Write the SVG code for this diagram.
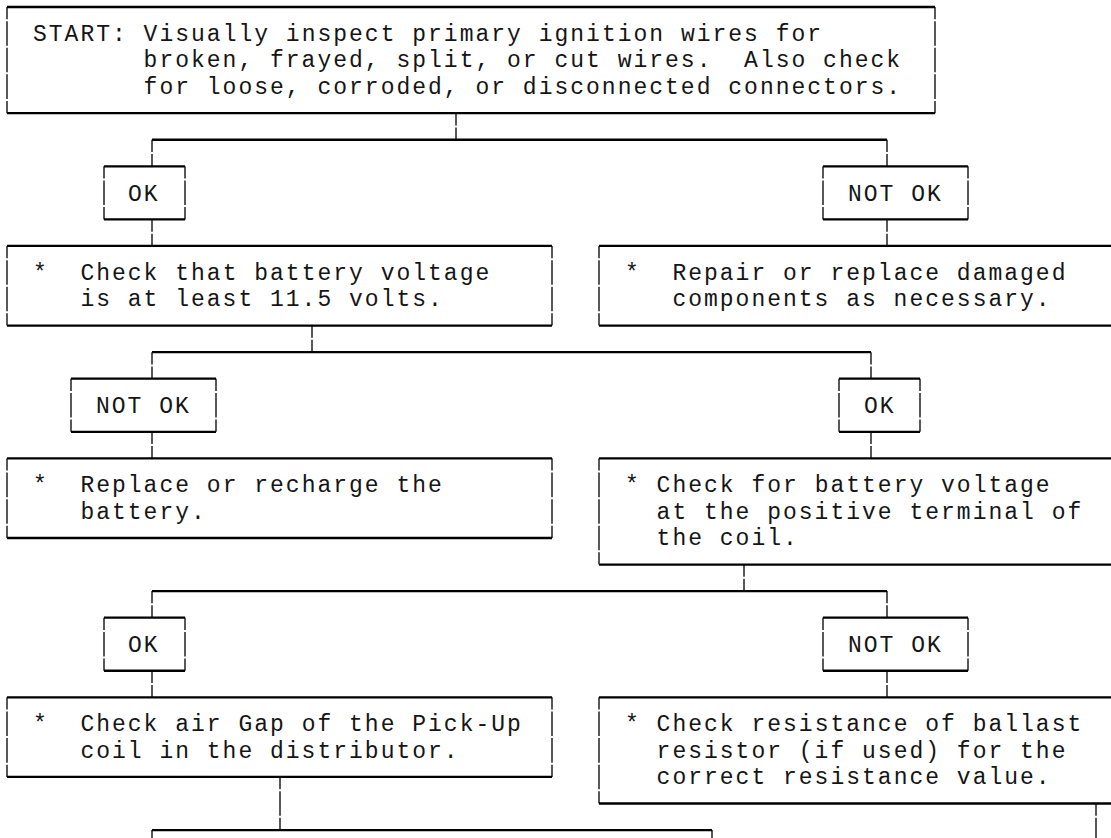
<svg xmlns="http://www.w3.org/2000/svg" width="1111" height="838" viewBox="0 0 1111 838">
<style>
text { font-family: "Liberation Mono", "DejaVu Sans Mono", monospace; font-size: 23px; letter-spacing: 2px; fill: #151515; white-space: pre; }
.h { stroke: #000; stroke-width: 2.3; fill: none; }
.v { stroke: #000; stroke-width: 1.3; fill: none; stroke-dasharray: 24.55 2; stroke-dashoffset: 12.28; }
</style>
<rect width="1111" height="838" fill="#fff"/>

<g id="connectors">
  <line class="v" x1="456" y1="113.2" x2="456" y2="139.75"/>
  <path class="h" d="M152 139.75 H887"/>
  <line class="v" x1="152" y1="139.75" x2="152" y2="166.3"/>
  <line class="v" x1="887" y1="139.75" x2="887" y2="166.3"/>
  <line class="v" x1="152" y1="219.4" x2="152" y2="245.95"/>
  <line class="v" x1="887" y1="219.4" x2="887" y2="245.95"/>

  <line class="v" x1="312" y1="325.6" x2="312" y2="352.15"/>
  <path class="h" d="M152 352.15 H871"/>
  <line class="v" x1="152" y1="352.15" x2="152" y2="378.7"/>
  <line class="v" x1="871" y1="352.15" x2="871" y2="378.7"/>
  <line class="v" x1="152" y1="431.8" x2="152" y2="458.35"/>
  <line class="v" x1="871" y1="431.8" x2="871" y2="458.35"/>

  <line class="v" x1="744" y1="564.55" x2="744" y2="591.1"/>
  <path class="h" d="M152 591.1 H887"/>
  <line class="v" x1="152" y1="591.1" x2="152" y2="617.65"/>
  <line class="v" x1="887" y1="591.1" x2="887" y2="617.65"/>
  <line class="v" x1="152" y1="670.75" x2="152" y2="697.3"/>
  <line class="v" x1="887" y1="670.75" x2="887" y2="697.3"/>

  <line class="v" x1="280" y1="776.95" x2="280" y2="830.05"/>
  <line class="v" x1="1096" y1="803.5" x2="1096" y2="856.6"/>
</g>

<g id="n-start">
  <path class="h" d="M7 7 H935 M7 113.2 H935"/>
  <line class="v" x1="7" y1="7" x2="7" y2="113.2"/>
  <line class="v" x1="935" y1="7" x2="935" y2="113.2"/>
  <text x="33" y="40.5">START: Visually inspect primary ignition wires for</text>
  <text x="143.6" y="67.1">broken, frayed, split, or cut wires.  Also check</text>
  <text x="143.6" y="93.6">for loose, corroded, or disconnected connectors.</text>
</g>

<g id="n-ok1">
  <path class="h" d="M104 166.3 H185 M104 219.4 H185"/>
  <line class="v" x1="104" y1="166.3" x2="104" y2="219.4"/>
  <line class="v" x1="185" y1="166.3" x2="185" y2="219.4"/>
  <text x="128" y="200.5">OK</text>
</g>

<g id="n-notok1">
  <path class="h" d="M823 166.3 H968 M823 219.4 H968"/>
  <line class="v" x1="823" y1="166.3" x2="823" y2="219.4"/>
  <line class="v" x1="968" y1="166.3" x2="968" y2="219.4"/>
  <text x="848" y="200.5">NOT OK</text>
</g>

<g id="n-battery">
  <path class="h" d="M7 245.95 H552 M7 325.6 H552"/>
  <line class="v" x1="7" y1="245.95" x2="7" y2="325.6"/>
  <line class="v" x1="552" y1="245.95" x2="552" y2="325.6"/>
  <text x="33" y="279.5">*  Check that battery voltage</text>
  <text x="80.4" y="306">is at least 11.5 volts.</text>
</g>

<g id="n-repair">
  <path class="h" d="M599 245.95 H1112 M599 325.6 H1112"/>
  <line class="v" x1="599" y1="245.95" x2="599" y2="325.6"/>
  <text x="625" y="279.5">*  Repair or replace damaged</text>
  <text x="672.4" y="306">components as necessary.</text>
</g>

<g id="n-notok2">
  <path class="h" d="M71 378.7 H216 M71 431.8 H216"/>
  <line class="v" x1="71" y1="378.7" x2="71" y2="431.8"/>
  <line class="v" x1="216" y1="378.7" x2="216" y2="431.8"/>
  <text x="96" y="412.5">NOT OK</text>
</g>

<g id="n-ok2">
  <path class="h" d="M839 378.7 H920 M839 431.8 H920"/>
  <line class="v" x1="839" y1="378.7" x2="839" y2="431.8"/>
  <line class="v" x1="920" y1="378.7" x2="920" y2="431.8"/>
  <text x="864" y="412.5">OK</text>
</g>

<g id="n-recharge">
  <path class="h" d="M7 458.35 H552 M7 538 H552"/>
  <line class="v" x1="7" y1="458.35" x2="7" y2="538"/>
  <line class="v" x1="552" y1="458.35" x2="552" y2="538"/>
  <text x="33" y="492">*  Replace or recharge the</text>
  <text x="80.4" y="518.5">battery.</text>
</g>

<g id="n-coil-voltage">
  <path class="h" d="M599 458.35 H1112 M599 564.55 H1112"/>
  <line class="v" x1="599" y1="458.35" x2="599" y2="564.55"/>
  <text x="625" y="492">* Check for battery voltage</text>
  <text x="656.6" y="518.5">at the positive terminal of</text>
  <text x="656.6" y="545">the coil.</text>
</g>

<g id="n-ok3">
  <path class="h" d="M104 617.65 H185 M104 670.75 H185"/>
  <line class="v" x1="104" y1="617.65" x2="104" y2="670.75"/>
  <line class="v" x1="185" y1="617.65" x2="185" y2="670.75"/>
  <text x="128" y="651.5">OK</text>
</g>

<g id="n-notok3">
  <path class="h" d="M823 617.65 H968 M823 670.75 H968"/>
  <line class="v" x1="823" y1="617.65" x2="823" y2="670.75"/>
  <line class="v" x1="968" y1="617.65" x2="968" y2="670.75"/>
  <text x="848" y="651.5">NOT OK</text>
</g>

<g id="n-airgap">
  <path class="h" d="M7 697.3 H552 M7 776.95 H552"/>
  <line class="v" x1="7" y1="697.3" x2="7" y2="776.95"/>
  <line class="v" x1="552" y1="697.3" x2="552" y2="776.95"/>
  <text x="33" y="731">*  Check air Gap of the Pick-Up</text>
  <text x="80.4" y="757.5">coil in the distributor.</text>
</g>

<g id="n-ballast">
  <path class="h" d="M599 697.3 H1112 M599 803.5 H1112"/>
  <line class="v" x1="599" y1="697.3" x2="599" y2="803.5"/>
  <text x="625" y="731">* Check resistance of ballast</text>
  <text x="656.6" y="757.5">resistor (if used) for the</text>
  <text x="656.6" y="784">correct resistance value.</text>
</g>

<g id="n-next">
  <path class="h" d="M152 830.05 H712"/>
  <line class="v" x1="152" y1="830.05" x2="152" y2="856.6"/>
  <line class="v" x1="712" y1="830.05" x2="712" y2="856.6"/>
</g>
</svg>
